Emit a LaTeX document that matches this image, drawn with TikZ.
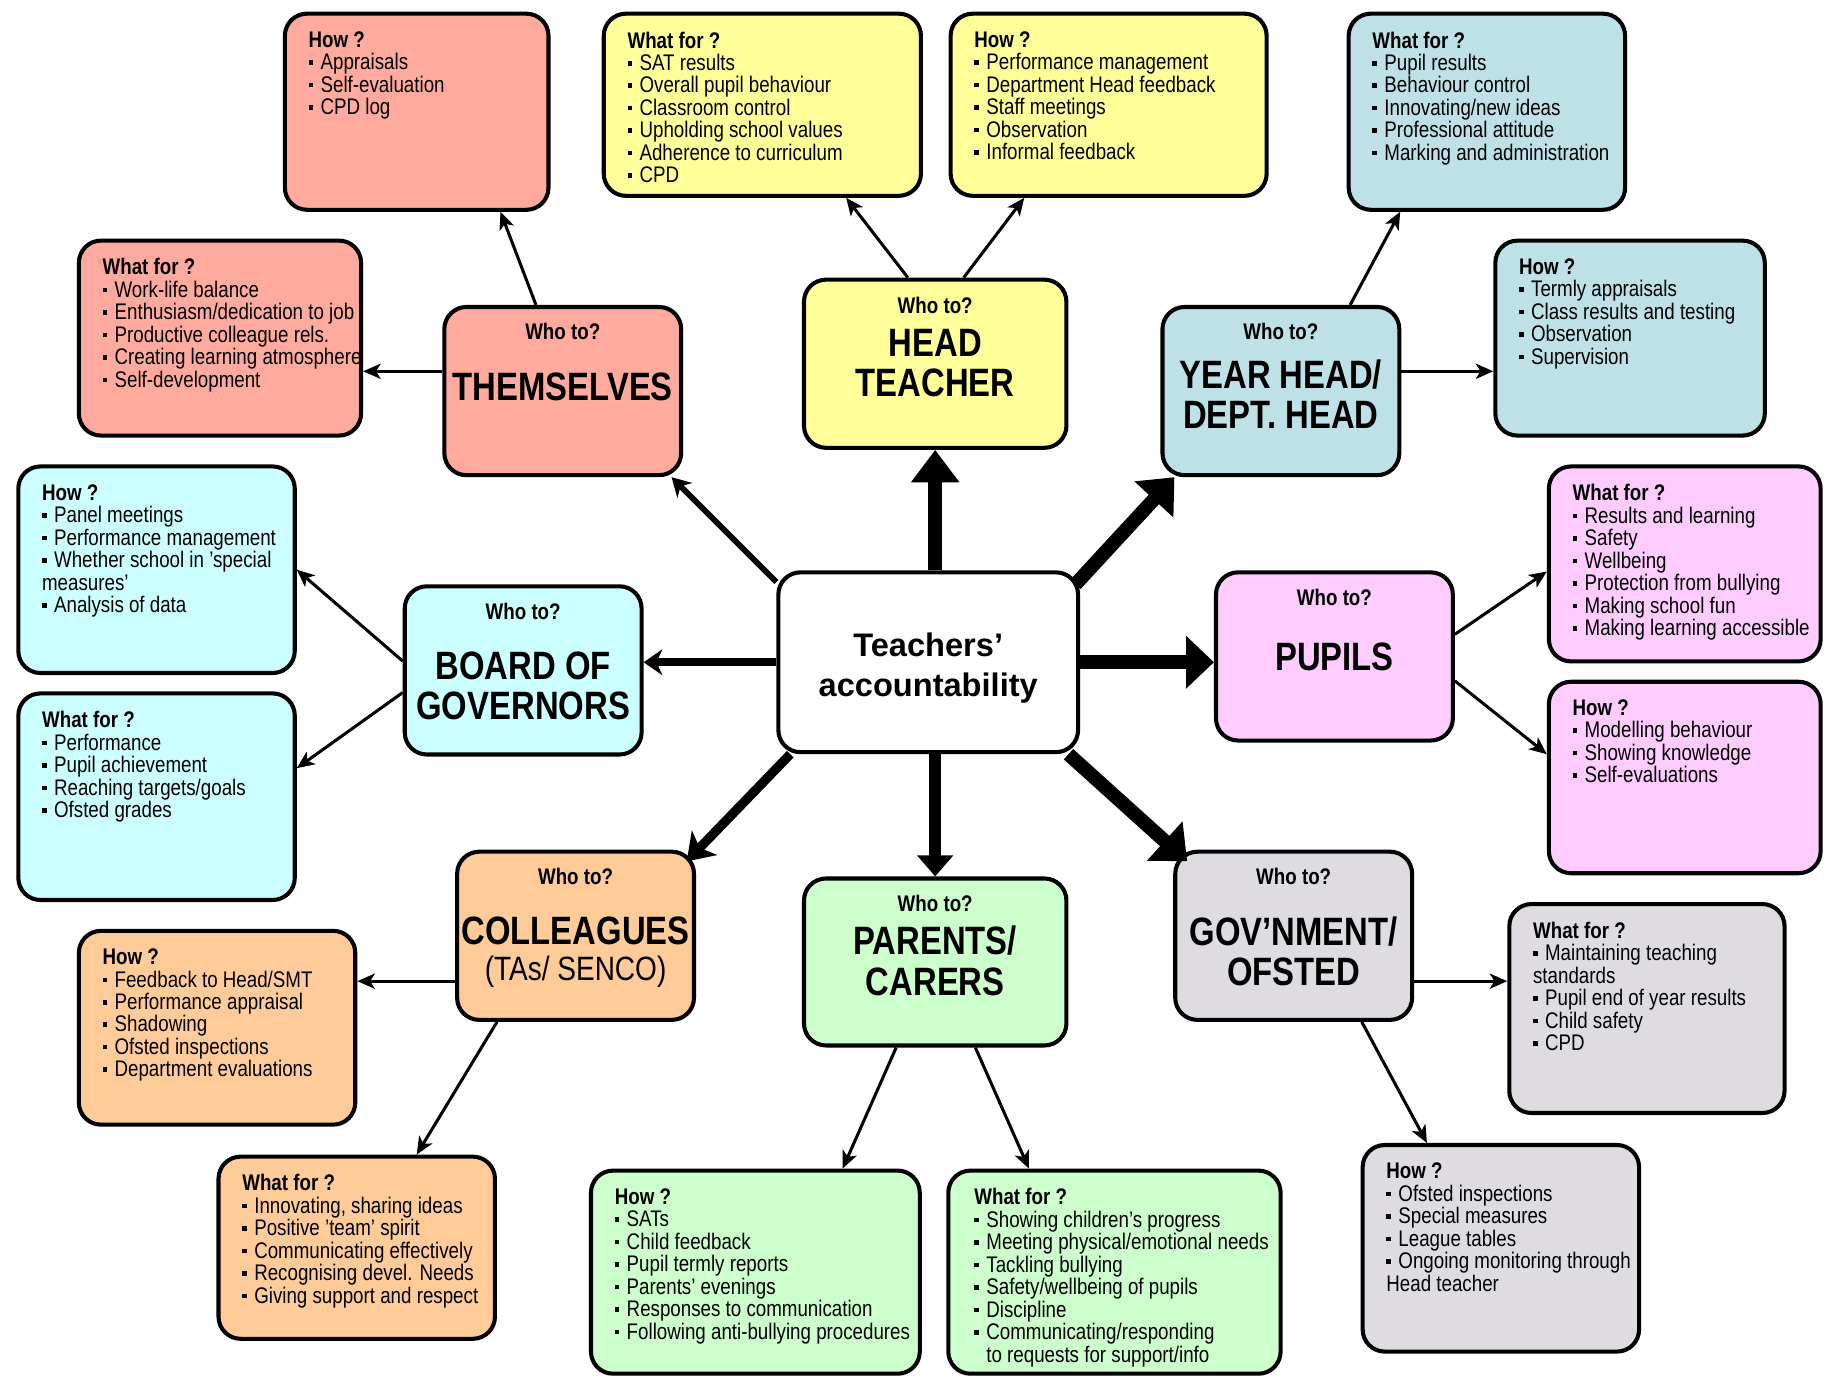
\documentclass[tikz,border=0pt]{standalone}
\usepackage{fontspec}
\setmainfont{Liberation Sans}[FakeStretch=0.83]
\newfontfamily\plainsans{Liberation Sans}
\usetikzlibrary{arrows.meta,calc}

\definecolor{selfc}{HTML}{FFAA9E}
\definecolor{headc}{HTML}{FFFF99}
\definecolor{yearc}{HTML}{BEE1E8}
\definecolor{boardc}{HTML}{CCFFFF}
\definecolor{pupilc}{HTML}{FFCCFF}
\definecolor{collc}{HTML}{FFCC99}
\definecolor{parc}{HTML}{CCFFCC}
\definecolor{govc}{HTML}{DEDCE0}

\newcommand{\bul}{\rule[0.22em]{0.2em}{0.2em}\hspace{0.33em}}
\newcommand{\hd}[1]{\textbf{#1}}

\begin{document}
\begin{tikzpicture}[
  x=1pt, y=-1pt,
  box/.style={draw, line width=3.5pt, rounded corners=19pt, inner sep=0pt},
  who/.style={box, minimum width=203.5pt, minimum height=144.5pt},
  whotxt/.style={font=\fontsize{19.4}{19.3}\selectfont\bfseries},
  bigtxt/.style={font=\fontsize{34}{34.5}\selectfont\bfseries, align=center, inner sep=0pt},
  info/.style={font=\fontsize{19.4}{19.3}\selectfont, align=left,
               anchor=north west, inner sep=0pt},
  sub/.style={line width=2.6pt, -{Stealth[length=15pt,width=13pt,inset=4pt]}},
]
\path[use as bounding box, fill=white] (0,0) rectangle (1568,1185);

% centre
\node[box, fill=white, minimum width=257.5pt, minimum height=154.5pt, align=center,
      font=\plainsans\fontsize{28}{34}\selectfont\bfseries] (ctr) at (797.5,569)
      {\rule{0pt}{30.5pt}Teachers’\\accountability};

% who to? boxes
\node[who, fill=selfc] (them) at (483.5,336) {};
\node[whotxt] (themwho) at ($(them.north)+(0,23)$) {Who to?};
\node[bigtxt] (themlab) at ($(them.north)+(0,70)$) {THEMSELVES};

\node[who, fill=headc, minimum width=225.5pt] (ht) at (803.5,312.5) {};
\node[whotxt] (htwho) at ($(ht.north)+(0,24)$) {Who to?};
\node[bigtxt] (htlab) at ($(ht.north)+(0,73.5)$) {HEAD\\TEACHER};

\node[who, fill=yearc] (yh) at (1100.5,336) {};
\node[whotxt] (yhwho) at ($(yh.north)+(0,23)$) {Who to?};
\node[bigtxt] (yhlab) at ($(yh.north)+(0,77)$) {YEAR HEAD/\\DEPT. HEAD};

\node[who, fill=boardc] (brd) at (449.5,576) {};
\node[whotxt] (brdwho) at ($(brd.north)+(0,23)$) {Who to?};
\node[bigtxt] (brdlab) at ($(brd.north)+(0,87)$) {BOARD OF\\GOVERNORS};

\node[who, fill=pupilc] (pup) at (1146.5,564) {};
\node[whotxt] (pupwho) at ($(pup.north)+(0,23)$) {Who to?};
\node[bigtxt] (puplab) at ($(pup.north)+(0,74)$) {PUPILS};

\node[who, fill=collc] (col) at (494.5,804) {};
\node[whotxt] (colwho) at ($(col.north)+(0,23)$) {Who to?};
\node[bigtxt] (collab) at ($(col.north)+(0,88)$)
  {COLLEAGUES\\[-3.5pt]{\mdseries\fontsize{29}{30}\selectfont (TAs/ SENCO)}};

\node[who, fill=parc, minimum width=225.5pt, minimum height=143.5pt] (par) at (803.5,826.5) {};
\node[whotxt] (parwho) at ($(par.north)+(0,23)$) {Who to?};
\node[bigtxt] (parlab) at ($(par.north)+(0,72.5)$) {PARENTS/\\CARERS};

\node[who, fill=govc] (gov) at (1111.5,804) {};
\node[whotxt] (govwho) at ($(gov.north)+(0,23)$) {Who to?};
\node[bigtxt] (govlab) at ($(gov.north)+(0,87.5)$) {GOV’NMENT/\\OFSTED};

% how? / what for? boxes
\node[box, fill=selfc, minimum width=226.5pt, minimum height=168.5pt] (themhow) at (358,96) {};
\node[info] (themhowtxt) at ($(themhow.north west)+(22,17)$)
  {\hd{How ?}\\ \bul Appraisals\\ \bul Self-evaluation\\ \bul CPD log};
\node[box, fill=selfc, minimum width=242.5pt, minimum height=167.5pt] (themwhat) at (189,290.5) {};
\node[info] (themwhattxt) at ($(themwhat.north west)+(22,17)$)
  {\hd{What for ?}\\ \bul Work-life balance\\ \bul Enthusiasm/dedication to job\\
   \bul Productive colleague rels.\\ \bul Creating learning atmosphere\\ \bul Self-development};

\node[box, fill=headc, minimum width=272.5pt, minimum height=156.5pt] (htwhat) at (655,90) {};
\node[info] (htwhattxt) at ($(htwhat.north west)+(22,17)$)
  {\hd{What for ?}\\ \bul SAT results\\ \bul Overall pupil behaviour\\ \bul Classroom control\\
   \bul Upholding school values\\ \bul Adherence to curriculum\\ \bul CPD};
\node[box, fill=headc, minimum width=271.5pt, minimum height=156.5pt] (hthow) at (952.5,90) {};
\node[info] (hthowtxt) at ($(hthow.north west)+(22,17)$)
  {\hd{How ?}\\ \bul Performance management\\ \bul Department Head feedback\\
   \bul Staff meetings\\ \bul Observation\\ \bul Informal feedback};

\node[box, fill=yearc, minimum width=237.5pt, minimum height=168.5pt] (yhwhat) at (1277.5,96) {};
\node[info] (yhwhattxt) at ($(yhwhat.north west)+(22,17)$)
  {\hd{What for ?}\\ \bul Pupil results\\ \bul Behaviour control\\ \bul Innovating/new ideas\\
   \bul Professional attitude\\ \bul Marking and administration};
\node[box, fill=yearc, minimum width=231.5pt, minimum height=167.5pt] (yhhow) at (1400.5,290.5) {};
\node[info] (yhhowtxt) at ($(yhhow.north west)+(22,17)$)
  {\hd{How ?}\\ \bul Termly appraisals\\ \bul Class results and testing\\
   \bul Observation\\ \bul Supervision};

\node[box, fill=boardc, minimum width=237.5pt, minimum height=177.5pt] (brdhow) at (134.5,489.5) {};
\node[info] (brdhowtxt) at ($(brdhow.north west)+(22,17)$)
  {\hd{How ?}\\ \bul Panel meetings\\ \bul Performance management\\
   \bul Whether school in 'special\\ measures'\\ \bul Analysis of data};
\node[box, fill=boardc, minimum width=237.5pt, minimum height=177.5pt] (brdwhat) at (134.5,684.5) {};
\node[info] (brdwhattxt) at ($(brdwhat.north west)+(22,17)$)
  {\hd{What for ?}\\ \bul Performance\\ \bul Pupil achievement\\
   \bul Reaching targets/goals\\ \bul Ofsted grades};

\node[box, fill=pupilc, minimum width=233.5pt, minimum height=167.5pt] (pupwhat) at (1447.5,484.5) {};
\node[info] (pupwhattxt) at ($(pupwhat.north west)+(22,17)$)
  {\hd{What for ?}\\ \bul Results and learning\\ \bul Safety\\ \bul Wellbeing\\
   \bul Protection from bullying\\ \bul Making school fun\\ \bul Making learning accessible};
\node[box, fill=pupilc, minimum width=233.5pt, minimum height=164.5pt] (puphow) at (1447.5,668) {};
\node[info] (puphowtxt) at ($(puphow.north west)+(22,17)$)
  {\hd{How ?}\\ \bul Modelling behaviour\\ \bul Showing knowledge\\ \bul Self-evaluations};

\node[box, fill=collc, minimum width=237.5pt, minimum height=166.5pt] (colhow) at (186.5,883) {};
\node[info] (colhowtxt) at ($(colhow.north west)+(22,17)$)
  {\hd{How ?}\\ \bul Feedback to Head/SMT\\ \bul Performance appraisal\\ \bul Shadowing\\
   \bul Ofsted inspections\\ \bul Department evaluations};
\node[box, fill=collc, minimum width=237.5pt, minimum height=156.5pt] (colwhat) at (306.5,1072) {};
\node[info] (colwhattxt) at ($(colwhat.north west)+(22,17)$)
  {\hd{What for ?}\\ \bul Innovating, sharing ideas\\ \bul Positive 'team' spirit\\
   \bul Communicating effectively\\ \bul Recognising devel. Needs\\ \bul Giving support and respect};

\node[box, fill=parc, minimum width=282.5pt, minimum height=174.5pt] (parhow) at (649,1093) {};
\node[info] (parhowtxt) at ($(parhow.north west)+(22,17)$)
  {\hd{How ?}\\ \bul SATs\\ \bul Child feedback\\ \bul Pupil termly reports\\ \bul Parents' evenings\\
   \bul Responses to communication\\ \bul Following anti-bullying procedures};
\node[box, fill=parc, minimum width=285.5pt, minimum height=174.5pt] (parwhat) at (957.5,1093) {};
\node[info] (parwhattxt) at ($(parwhat.north west)+(24,17)$)
  {\hd{What for ?}\\ \bul Showing children's progress\\ \bul Meeting physical/emotional needs\\
   \bul Tackling bullying\\ \bul Safety/wellbeing of pupils\\ \bul Discipline\\
   \bul Communicating/responding\\ \phantom{\bul}to requests for support/info};

\node[box, fill=govc, minimum width=236.5pt, minimum height=179.5pt] (govwhat) at (1415,866.5) {};
\node[info] (govwhattxt) at ($(govwhat.north west)+(22,17)$)
  {\hd{What for ?}\\ \bul Maintaining teaching\\ standards\\ \bul Pupil end of year results\\
   \bul Child safety\\ \bul CPD};
\node[box, fill=govc, minimum width=237.5pt, minimum height=177.5pt] (govhow) at (1289.5,1072.5) {};
\node[info] (govhowtxt) at ($(govhow.north west)+(22,17)$)
  {\hd{How ?}\\ \bul Ofsted inspections\\ \bul Special measures\\ \bul League tables\\
   \bul Ongoing monitoring through\\ Head teacher};

% centre to who to?
\draw[line width=12pt, -{Triangle[length=28pt,width=40pt]}] (ctr.north -| ht.south) -- (ht.south);
\draw[line width=12pt, -{Triangle[length=26pt,width=44pt]}] ($(ctr.north east)+(-4,12)$) -- ($(yh.south west)+(12,0)$);
\draw[line width=12pt, -{Triangle[length=24pt,width=44pt]}] (ctr.east) -- (ctr.east -| pup.west);
\draw[line width=12pt, -{Triangle[length=26pt,width=44pt]}] ($(ctr.south east)+(-10,0)$) -- ($(gov.north west)+(12,10)$);
\draw[line width=10pt, -{Triangle[length=18pt,width=30pt]}] (ctr.south -| par.north) -- (par.north);
\draw[line width=8pt, -{Stealth[length=22pt,width=30pt,inset=6pt]}] ($(ctr.south west)+(12,0)$) -- ($(col.north east)+(-8,10)$);
\draw[line width=7pt, -{Stealth[length=16pt,width=22pt,inset=5pt]}] (ctr.west) -- (ctr.west -| brd.east);
\draw[line width=5pt, -{Stealth[length=16pt,width=18pt,inset=5pt]}] ($(ctr.north west)+(0,10)$) -- ($(them.south east)+(-10,0)$);

% who to? to how? / what for?
\draw[sub] ($(them.north)+(-23,0)$) -- ($(themhow.south)+(72,0)$);
\draw[sub] ($(them.west)+(0,-17)$) -- ($(them.west -| themwhat.east)+(0,-17)$);
\draw[sub] ($(ht.north)+(-23.5,0)$) -- ($(htwhat.south)+(72,0)$);
\draw[sub] ($(ht.north)+(24.5,0)$) -- ($(hthow.south)+(-72.5,0)$);
\draw[sub] ($(yh.north)+(59.5,0)$) -- ($(yhwhat.south)+(-74.5,0)$);
\draw[sub] ($(yh.east)+(0,-17)$) -- ($(yh.east -| yhhow.west)+(0,-17)$);
\draw[sub] ($(brd.west)+(0,-8)$) -- (brdhow.east);
\draw[sub] ($(brd.west)+(0,19)$) -- ($(brdwhat.east)+(0,-24.5)$);
\draw[sub] ($(pup.east)+(0,-19)$) -- ($(pupwhat.west)+(0,6.5)$);
\draw[sub] ($(pup.east)+(0,21)$) -- ($(puphow.west)+(0,-20)$);
\draw[sub] ($(col.west)+(0,39)$) -- ($(col.west -| colhow.east)+(0,39)$);
\draw[sub] ($(col.south)+(-67.5,0)$) -- ($(colwhat.north)+(51.5,0)$);
\draw[sub] ($(par.south)+(-33.5,0)$) -- ($(parhow.north)+(75,0)$);
\draw[sub] ($(par.south)+(34.5,0)$) -- ($(parwhat.north)+(-73.5,0)$);
\draw[sub] ($(gov.east)+(0,39)$) -- ($(gov.east -| govwhat.west)+(0,39)$);
\draw[sub] ($(gov.south)+(58.5,0)$) -- ($(govhow.north)+(-63.5,0)$);
\end{tikzpicture}
\end{document}
